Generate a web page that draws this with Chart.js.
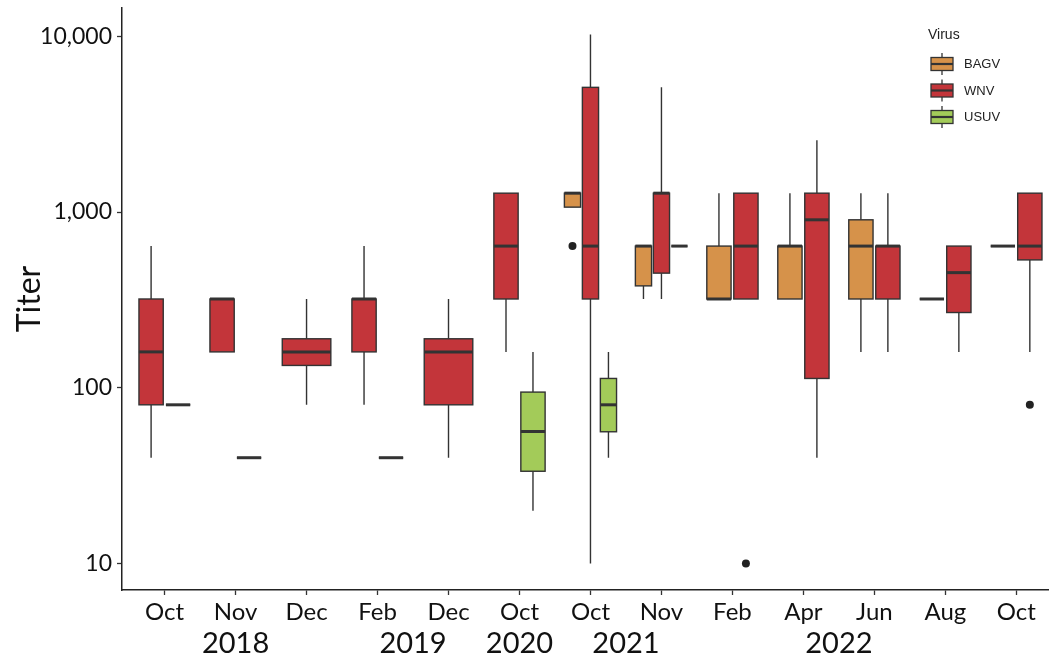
<!DOCTYPE html>
<html>
<head>
<meta charset="utf-8">
<title>Virus titers by sampling month</title>
<script src="https://cdn.jsdelivr.net/npm/chart.js@4.4.1/dist/chart.umd.min.js"></script>
<style>
  html, body { margin: 0; padding: 0; background: #ffffff; overflow: hidden; }
  canvas { display: block; }
</style>
</head>
<body>
<canvas id="chart" width="1049" height="659"></canvas>
<script>
// Sampling months (x categories) and the year captions beneath them
const months = ['Oct', 'Nov', 'Dec', 'Feb', 'Dec', 'Oct', 'Oct', 'Nov', 'Feb', 'Apr', 'Jun', 'Aug', 'Oct'];
const years = ['2018', '2019', '2020', '2021', '2022'];
const yearAnchors = [2, 4.5, 6, 7.5, 10.5];
const titerTicks = [10, 100, 1000, 10000];

const viruses = ['BAGV', 'WNV', 'USUV'];

// Five-number summaries per month: [lower whisker, Q1, median, Q3, upper whisker]
const bagv = [
  null, null, null, null, null, null,
  [1066, 1066, 1280, 1280, 1280],
  [320, 380, 640, 640, 640],
  [320, 320, 320, 640, 1280],
  [320, 320, 640, 640, 1280],
  [160, 320, 640, 903, 1280],
  [320, 320, 320, 320, 320],
  [640, 640, 640, 640, 640]
];
const wnv = [
  [40, 80, 160, 320, 640],
  [160, 160, 320, 320, 320],
  [80, 134, 160, 190, 320],
  [80, 160, 320, 320, 640],
  [40, 80, 160, 190, 320],
  [160, 320, 640, 1280, 1280],
  [10, 320, 640, 5120, 10240],
  [320, 449, 1280, 1280, 5120],
  [320, 320, 640, 1280, 1280],
  [40, 113, 903, 1280, 2560],
  [160, 320, 640, 640, 1280],
  [160, 268, 452, 640, 640],
  [160, 534, 640, 1280, 1280]
];
const usuv = [
  [80, 80, 80, 80, 80],
  [40, 40, 40, 40, 40],
  null,
  [40, 40, 40, 40, 40],
  null,
  [20, 33.5, 56.4, 94.5, 160],
  [40, 56.2, 80, 113, 160],
  [640, 640, 640, 640, 640],
  null, null, null, null, null
];

// Outlying titers: [month number (1-based), titer]
const bagvOutliers = [[7, 640]];
const wnvOutliers = [[9, 10], [13, 80]];
const usuvOutliers = [];

const fills = ['#d6924a', '#c3353a', '#a3cb59'];
const outline = '#333333';
const summaries = [bagv, wnv, usuv];
const outliers = [bagvOutliers, wnvOutliers, usuvOutliers];

// Side-by-side placement of the boxes present in one month
const groupWidth = 0.76;
const boxPadding = 0.1;
function dodge(monthIndex, virusIndex) {
  const present = summaries.map((s, k) => (s[monthIndex] ? k : -1)).filter(k => k >= 0);
  const n = present.length;
  const j = present.indexOf(virusIndex);
  const slot = groupWidth / n;
  return {
    center: monthIndex + 1 - groupWidth / 2 + slot * (j + 0.5),
    half: slot * (1 - boxPadding) / 2
  };
}

const boxPlotPlugin = {
  id: 'boxPlots',
  beforeDatasetsDraw(chart) {
    const { ctx, chartArea: a, scales } = chart;
    const xs = scales.x, ys = scales.y;
    ctx.save();
    ctx.beginPath();
    ctx.rect(a.left, a.top, a.right - a.left, a.bottom - a.top);
    ctx.clip();
    summaries.forEach((series, k) => {
      series.forEach((v, i) => {
        if (!v) return;
        const d = dodge(i, k);
        const xc = xs.getPixelForValue(d.center);
        const xl = xs.getPixelForValue(d.center - d.half);
        const xr = xs.getPixelForValue(d.center + d.half);
        const [lo, q1, med, q3, hi] = v.map(t => ys.getPixelForValue(t));
        ctx.strokeStyle = outline;
        ctx.lineWidth = 1.4;
        ctx.beginPath();
        ctx.moveTo(xc, q3); ctx.lineTo(xc, hi);
        ctx.moveTo(xc, q1); ctx.lineTo(xc, lo);
        ctx.stroke();
        ctx.fillStyle = fills[k];
        ctx.fillRect(xl, q3, xr - xl, q1 - q3);
        ctx.strokeRect(xl, q3, xr - xl, q1 - q3);
        ctx.lineWidth = 3;
        ctx.beginPath();
        ctx.moveTo(xl, med); ctx.lineTo(xr, med);
        ctx.stroke();
      });
    });
    ctx.restore();
  },
  afterDraw(chart) {
    // Key for the three viruses
    const ctx = chart.ctx;
    ctx.save();
    ctx.fillStyle = '#222';
    ctx.textBaseline = 'middle';
    ctx.textAlign = 'left';
    ctx.font = '14px "Liberation Sans", Arial, sans-serif';
    ctx.fillText('Virus', 928, 35);
    viruses.forEach((name, k) => {
      const cy = 64 + k * 26.5;
      const left = 931, right = 953, mid = (left + right) / 2;
      ctx.strokeStyle = outline;
      ctx.lineWidth = 1.3;
      ctx.beginPath();
      ctx.moveTo(mid, cy - 11); ctx.lineTo(mid, cy + 11);
      ctx.stroke();
      ctx.fillStyle = fills[k];
      ctx.fillRect(left, cy - 6.5, right - left, 13);
      ctx.strokeRect(left, cy - 6.5, right - left, 13);
      ctx.lineWidth = 2.2;
      ctx.beginPath();
      ctx.moveTo(left, cy); ctx.lineTo(right, cy);
      ctx.stroke();
      ctx.fillStyle = '#222';
      ctx.font = '13px "Liberation Sans", Arial, sans-serif';
      ctx.fillText(name, 964, cy + 0.5);
    });
    ctx.restore();
  }
};

const outlierSets = outliers.map((list, k) => ({
  label: viruses[k] + ' outliers',
  data: list.map(([m, t]) => ({ x: dodge(m - 1, k).center, y: t })),
  pointRadius: 4,
  pointHoverRadius: 4,
  pointBackgroundColor: '#222',
  pointBorderWidth: 0,
  showLine: false
}));

const axisFont = 'Lato, "Open Sans", sans-serif';

// Horizontal axes share the same extent; label overhang is not reserved
function fitHorizontal(height) {
  return s => { s.height = height; s.paddingLeft = 0; s.paddingRight = 0; };
}

new Chart(document.getElementById('chart'), {
  type: 'scatter',
  data: { datasets: outlierSets },
  options: {
    responsive: false,
    animation: false,
    devicePixelRatio: 1,
    layout: { autoPadding: false, padding: { top: 8, right: 0, bottom: 0, left: 0 } },
    plugins: { legend: { display: false }, tooltip: { enabled: false } },
    scales: {
      x: {
        type: 'linear',
        position: 'bottom',
        weight: 0,
        min: 0.4,
        max: 13.46,
        afterBuildTicks: s => { s.ticks = months.map((m, i) => ({ value: i + 1 })); },
        afterFit: fitHorizontal(36),
        ticks: {
          callback: (v, i) => months[i],
          autoSkip: false,
          maxRotation: 0,
          font: { family: axisFont, size: 24 },
          color: '#111',
          padding: 3
        },
        grid: { drawOnChartArea: false, tickLength: 5, color: '#333', tickWidth: 1.3 },
        border: { color: '#222', width: 1.5 }
      },
      years: {
        type: 'linear',
        position: 'bottom',
        weight: 1,
        min: 0.4,
        max: 13.46,
        afterBuildTicks: s => { s.ticks = yearAnchors.map(v => ({ value: v })); },
        afterFit: fitHorizontal(33),
        ticks: {
          callback: (v, i) => years[i],
          autoSkip: false,
          maxRotation: 0,
          font: { family: axisFont, size: 29 },
          color: '#111',
          padding: 0
        },
        grid: { display: false, drawTicks: false },
        border: { display: false }
      },
      y: {
        type: 'logarithmic',
        min: 7.07,
        max: 14480,
        afterBuildTicks: s => { s.ticks = titerTicks.map(v => ({ value: v })); },
        afterFit: s => { s.width = 122; s.paddingTop = 0; s.paddingBottom = 0; },
        ticks: {
          callback: v => Number(v).toLocaleString('en-US'),
          font: { family: axisFont, size: 23 },
          color: '#111',
          padding: 5
        },
        grid: { drawOnChartArea: false, tickLength: 5, color: '#333', tickWidth: 1.3 },
        border: { color: '#222', width: 1.5 },
        title: {
          display: true,
          text: 'Titer',
          font: { family: axisFont, size: 32 },
          color: '#111',
          padding: { top: 10, bottom: 0 }
        }
      }
    }
  },
  plugins: [boxPlotPlugin]
});
</script>
</body>
</html>
